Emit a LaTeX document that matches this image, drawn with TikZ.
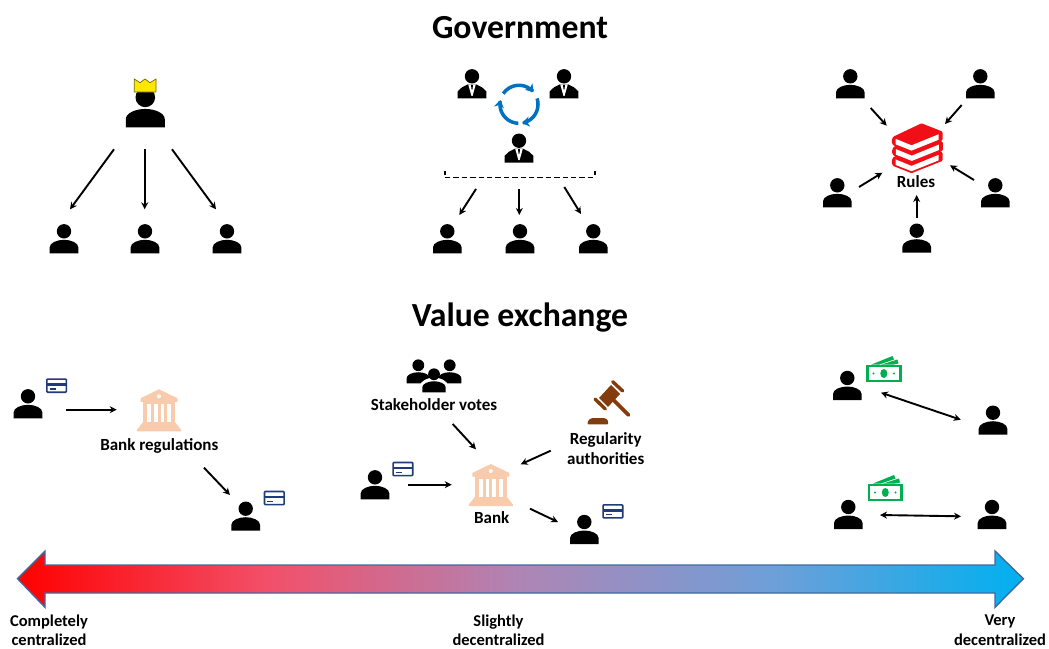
\documentclass[tikz,border=0pt]{standalone}
\usepackage{fontspec}
\setmainfont{Carlito}
\usetikzlibrary{arrows.meta,calc}
\definecolor{cardnavy}{HTML}{1F3B7C}
\definecolor{bankpeach}{HTML}{F8CBAD}
\definecolor{moneygreen}{HTML}{00B050}
\definecolor{gavelbrown}{HTML}{843C0C}
\definecolor{cycleblue}{HTML}{0070C0}
\definecolor{bookred}{HTML}{F00F16}
\definecolor{crownyellow}{HTML}{FFE800}
\definecolor{bigedge}{HTML}{3F6A9F}
\definecolor{sA}{HTML}{FF0000}
\definecolor{sB}{HTML}{F2506A}
\definecolor{sC}{HTML}{AE85B5}
\definecolor{sD}{HTML}{6F9FD8}
\definecolor{sE}{HTML}{00B0F0}
\pgfdeclarehorizontalshading{spectrum}{100bp}{color(0bp)=(sA); color(25bp)=(sA); color(37.5bp)=(sB); color(50bp)=(sC); color(62.5bp)=(sD); color(75bp)=(sE); color(100bp)=(sE)}
\tikzset{
  arr/.style={-{Stealth[length=7pt,width=7pt]},line width=1.9pt,black},
  dbl/.style={{Stealth[length=7pt,width=7pt]}-{Stealth[length=7pt,width=7pt]},line width=1.9pt,black},
  pbox/.style={inner sep=0pt,minimum width=28.6pt,minimum height=29pt,anchor=south},
  iconbox/.style={inner sep=0pt,anchor=north west},
  title/.style={font=\bfseries\fontsize{33.7}{38}\selectfont,inner sep=0pt},
  lbl/.style={font=\bfseries\fontsize{17}{19.6}\selectfont,align=center,inner sep=0pt},
  endlbl/.style={font=\bfseries\fontsize{16.5}{19.4}\selectfont,align=center,inner sep=0pt},
  person/.pic={
    \fill[black] (0,-22) circle (7.2);
    \fill[black] (-14.3,0) -- (-14.3,-6) .. controls (-14.3,-10.5) and (-7,-13.5) .. (0,-13.5)
      .. controls (7,-13.5) and (14.3,-10.5) .. (14.3,-6) -- (14.3,0) -- cycle;
  },
  suit/.pic={
    \fill[black] (0,-22) circle (7.2);
    \fill[black] (-14.3,0) -- (-14.3,-7) -- (-10,-11) -- (-4,-14) -- (4,-14) -- (10,-11) -- (14.3,-7) -- (14.3,0) -- cycle;
    \fill[white] (-3.8,-14) -- (3.8,-14) -- (0.6,-2.5) -- (-0.6,-2.5) -- cycle;
    \fill[black] (-1,-13.5) -- (1,-13.5) -- (0.5,-9) -- (-0.5,-9) -- cycle;
  },
  card/.pic={
    \draw[cardnavy,line width=1.6pt,fill=white,rounded corners=0.8pt] (0.8,0.8) rectangle (20.4,13.9);
    \fill[cardnavy] (0.8,4.8) rectangle (20.4,7.6);
    \draw[cardnavy,line width=1.3pt] (3.5,10.6) -- (9.5,10.6);
  },
  bank/.pic={
    \fill[bankpeach] (0,0) -- (18.5,9) -- (18.5,12.5) -- (-18.5,12.5) -- (-18.5,9) -- cycle;
    \fill[white] (0,7) circle (2);
    \fill[bankpeach] (-16,12) rectangle (16,34);
    \foreach \cx in {-10.2,-3.4,3.4,10.2} {\fill[white] (\cx-1.9,14.5) rectangle (\cx+1.9,32.5);}
    \fill[bankpeach] (-16,33) -- (16,33) -- (22,40.5) -- (22,42) -- (-22,42) -- (-22,40.5) -- cycle;
  },
  money/.pic={
    \fill[moneygreen] (5,8.7) -- (26.5,0) -- (28,3.5) -- (13,8.7) -- cycle;
    \fill[moneygreen] (15,8.7) -- (31.5,3.5) -- (32.5,7.5) -- (27,8.7) -- cycle;
    \draw[moneygreen,line width=2.6pt,fill=white] (1.3,10) rectangle (34.2,25);
    \fill[moneygreen] (17.8,17.5) ellipse (3.5 and 4.5);
    \fill[moneygreen] (7.5,17.5) circle (1.1);
    \fill[moneygreen] (28,17.5) circle (1.1);
  },
  onebook/.pic={
    \fill[bookred,rounded corners=1pt] (1.5,13.5) -- (30,0) -- (51,8.3) -- (51,17) -- (20,29.3) -- (1.5,22) -- (0,18) -- cycle;
    \fill[white] (4,15.5) -- (20,22) -- (47,11) -- (47,16.5) -- (20,27.3) -- (4,21) -- cycle;
  },
  gavel/.pic={
    \draw[gavelbrown,line width=3.4pt,line cap=round] (32.7,6.7) -- (42.7,16);
    \draw[gavelbrown,line width=3.4pt,line cap=round] (15,24) -- (25.3,34);
    \fill[gavelbrown] (19,23) -- (31,10) -- (40,19) -- (28,32) -- cycle;
    \draw[gavelbrown,line width=3.8pt,line cap=round] (32,23.5) -- (48.5,40);
    \fill[gavelbrown,rounded corners=1pt] (7.3,49.3) -- (8.5,45) -- (12,43) -- (24.5,43) -- (27.8,45) -- (28.3,49.3) -- cycle;
  },
}
\newcommand{\personat}[3]{\node[pbox] (#1) at (#2,#3) {}; \pic at (#1.south) {person};}
\newcommand{\suitat}[3]{\node[pbox] (#1) at (#2,#3) {}; \pic at (#1.south) {suit};}
\newcommand{\cardat}[3]{\node[iconbox,minimum width=21pt,minimum height=14.5pt] (#1) at (#2,#3) {}; \pic at (#1.north west) {card};}
\newcommand{\bankat}[3]{\node[inner sep=0pt,minimum width=44pt,minimum height=42pt,anchor=north] (#1) at (#2,#3) {}; \pic at (#1.north) {bank};}
\newcommand{\moneyat}[3]{\node[iconbox,minimum width=35.5pt,minimum height=26pt] (#1) at (#2,#3) {}; \pic at (#1.north west) {money};}
\begin{document}
\begin{tikzpicture}[x=1pt,y=-1pt]
\useasboundingbox (0,0) rectangle (1049,648);
\fill[white] (0,0) rectangle (1049,648);

% titles
\node[title] (t1) at (520,28) {Government};
\node[title] (t2) at (520,317.5) {Value exchange};

% --- Government, left
\node[pbox,minimum width=39pt,minimum height=48pt] (king) at (145.3,127.3) {};
\pic[scale=1.36] at (king.south) {person};
\fill[crownyellow,draw=black!55!crownyellow,line width=0.7pt] (134.3,79) -- (140,82.7) -- (145,79) -- (150,82.7) -- (156,79) -- (156,92) -- (134.3,92) -- cycle;
\personat{g1}{64}{253.3}
\personat{g2}{145}{253.3}
\personat{g3}{227}{253.3}
\coordinate (k1) at (114,149.3); \coordinate (g1t) at (70,209.3);
\coordinate (k2) at (144.7,149.3); \coordinate (g2t) at (144.7,209.3);
\coordinate (k3) at (172,149.3); \coordinate (g3t) at (216,209.3);
\draw[arr] (k1) -- (g1t);
\draw[arr] (k2) -- (g2t);
\draw[arr] (k3) -- (g3t);

% --- Government, middle
\suitat{s1}{472}{98.3}
\suitat{s2}{564}{98.3}
\suitat{s3}{519}{162.7}
\foreach \a/\b in {146/40,18/-81,-92/-193} {
  \draw[cycleblue,line width=3.5pt,-{Stealth[length=7.5pt,width=10pt]}]
    plot[domain=\a:\b,samples=24,smooth] ({519+19*cos(\x)},{104.3-19*sin(\x)});
}
\coordinate (dl) at (445,177.3); \coordinate (dr) at (595,177.3);
\coordinate (dlt) at (445,171); \coordinate (drt) at (595,171);
\draw[line width=1.4pt,dash pattern=on 5.4pt off 3pt] (dl) -- (dr);
\draw[line width=1.1pt] (dlt) -- ++(0,4);
\draw[line width=1.1pt] (drt) -- ++(0,4);
\personat{m1}{447.3}{253.3}
\personat{m2}{520}{253.3}
\personat{m3}{593.3}{253.3}
\coordinate (d1) at (476,189); \coordinate (m1t) at (459.3,215);
\coordinate (d2) at (519.3,189); \coordinate (m2t) at (519.3,215);
\coordinate (d3) at (564.3,187); \coordinate (m3t) at (581,214);
\draw[arr] (d1) -- (m1t);
\draw[arr] (d2) -- (m2t);
\draw[arr] (d3) -- (m3t);

% --- Government, right
\personat{r1}{850.3}{98.3}
\personat{r2}{980.3}{98.3}
\personat{r3}{837.3}{207.3}
\personat{r4}{995.3}{207.3}
\personat{r5}{916.7}{252.7}
\node[iconbox,minimum width=52pt,minimum height=50pt] (books) at (891.5,123.3) {};
\pic at ($(books.north west)+(0,20.6)$) {onebook};
\pic at ($(books.north west)+(0.3,10.3)$) {onebook};
\pic at (books.north west) {onebook};
\node[lbl] (rules) at (916,182) {Rules};
\coordinate (r1a) at (870.7,108); \coordinate (b1) at (886.7,125.7);
\coordinate (r2a) at (961.7,105); \coordinate (b2) at (945,124);
\coordinate (r3a) at (859,187); \coordinate (b3) at (882.3,172.7);
\coordinate (r4a) at (974,180); \coordinate (b4) at (950,165.3);
\coordinate (r5a) at (916.7,217.7); \coordinate (b5) at (916.7,195);
\draw[arr] (r1a) -- (b1);
\draw[arr] (r2a) -- (b2);
\draw[arr] (r3a) -- (b3);
\draw[arr] (r4a) -- (b4);
\draw[arr] (r5a) -- (b5);

% --- Value exchange, left
\personat{v1}{28}{418.3}
\cardat{vc1}{46}{378.3}
\bankat{vb}{159}{389.3}
\node[lbl] (vbl) at (159.3,445.7) {Bank regulations};
\personat{v2}{245.7}{530.7}
\cardat{vc2}{263.7}{490.7}
\coordinate (v1a) at (66,409.7); \coordinate (vba) at (116.7,409.7);
\coordinate (vlb) at (204,467.7); \coordinate (v2a) at (230,495);
\draw[arr] (v1a) -- (vba);
\draw[arr] (vlb) -- (v2a);

% --- Value exchange, middle
\node[inner sep=0pt,minimum width=55pt,minimum height=34pt,anchor=south] (grp) at (434,392.3) {};
\pic[scale=0.82] at (418.3,383.3) {person};
\pic[scale=0.82] at (449.7,383.3) {person};
\fill[white] (434,370.5) circle (7.2);
\fill[white] (420,392.3) -- (420,386) .. controls (420,381) and (428,377.5) .. (434,377.5) .. controls (440,377.5) and (448,381) .. (448,386) -- (448,392.3) -- cycle;
\pic[scale=0.82] at (434,392.3) {person};
\node[lbl] (stk) at (434,405) {Stakeholder votes};
\node[iconbox,minimum width=50pt,minimum height=50pt] (gv) at (580,375) {};
\pic at (gv.north west) {gavel};
\node[lbl] (reg) at (605.7,448.7) {Regularity\\authorities};
\personat{x1}{375}{499.3}
\cardat{xc1}{392.3}{461.7}
\bankat{xb}{490.8}{464}
\node[lbl] (xbl) at (491.7,517.7) {Bank};
\personat{x2}{584.3}{544}
\cardat{xc2}{602.3}{504}
\coordinate (st) at (452.7,424); \coordinate (xbt) at (476,449.3);
\coordinate (rg) at (550.7,450.7); \coordinate (xbr) at (520.7,464.3);
\coordinate (x1a) at (408.3,484.7); \coordinate (xbl2) at (451.7,484.7);
\coordinate (xbo) at (530,508.7); \coordinate (x2a) at (558,522);
\draw[arr] (st) -- (xbt);
\draw[arr] (rg) -- (xbr);
\draw[arr] (x1a) -- (xbl2);
\draw[arr] (xbo) -- (x2a);

% --- Value exchange, right
\personat{y1}{847.3}{400}
\moneyat{ym1}{866}{356}
\personat{y2}{993}{434.7}
\personat{y3}{848.3}{529}
\moneyat{ym2}{867.5}{475}
\personat{y4}{992}{529}
\coordinate (y1a) at (881,392.7); \coordinate (y2a) at (960.7,419.7);
\coordinate (y3a) at (880,515); \coordinate (y4a) at (961,516.3);
\draw[dbl] (y1a) -- (y2a);
\draw[dbl] (y3a) -- (y4a);

% --- big arrow
\path[shading=spectrum,draw=bigedge,line width=1.4pt] (17.5,578.7) -- (45,551) -- (45,565) -- (995,565) -- (995,551) -- (1023.3,578.7) -- (995,607.3) -- (995,593) -- (45,593) -- (45,607.3) -- cycle;
\node[endlbl] (c1) at (49,630.3) {Completely\\centralized};
\node[endlbl] (c2) at (498.5,630.3) {Slightly\\decentralized};
\node[endlbl] (c3) at (1000,630.3) {Very\\decentralized};
\end{tikzpicture}
\end{document}
